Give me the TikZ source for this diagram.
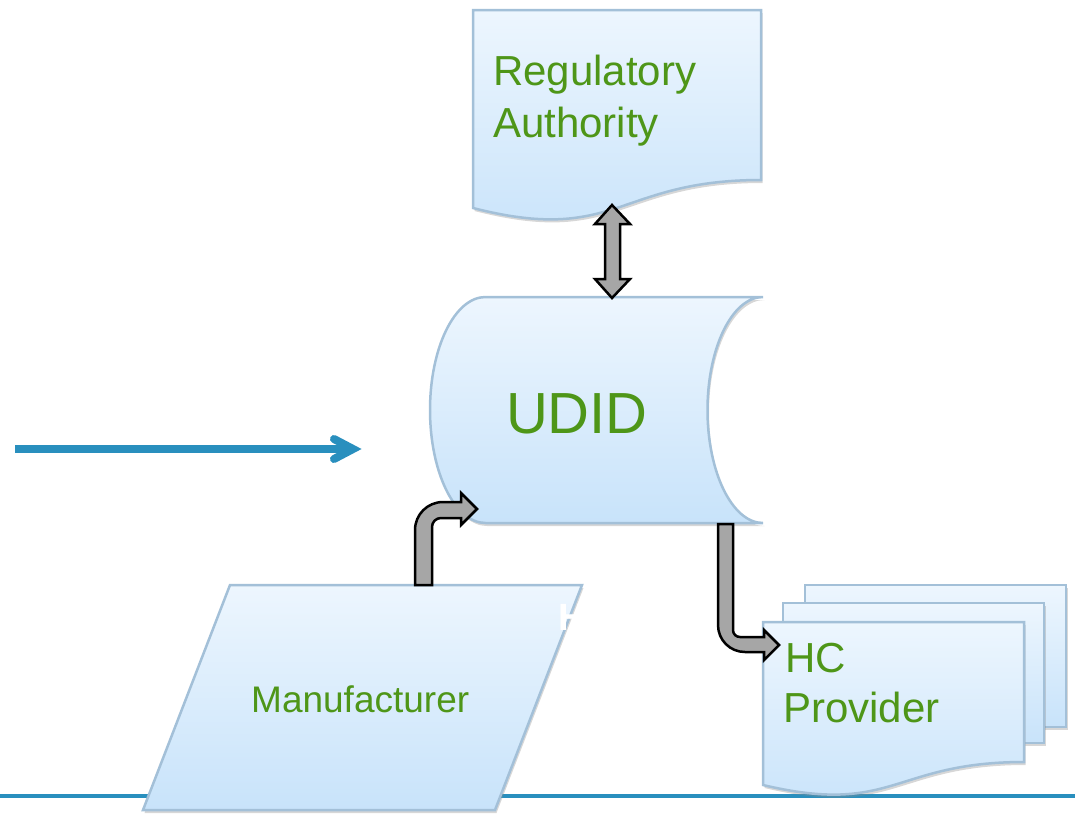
\documentclass[tikz,border=0pt]{standalone}
\usepackage{fontspec}
\setmainfont{Liberation Sans}
\usetikzlibrary{shadows}
\definecolor{txtgreen}{RGB}{78,150,24}
\definecolor{boxtop}{RGB}{237,246,254}
\definecolor{boxbot}{RGB}{200,227,250}
\definecolor{boxline}{RGB}{163,192,216}
\definecolor{arrowgray}{RGB}{166,166,166}
\definecolor{lineblue}{RGB}{41,143,190}
\tikzset{
  shapebox/.style={draw=boxline, line width=2.5pt, top color=boxtop, bottom color=boxbot,
    drop shadow={shadow xshift=1.5pt, shadow yshift=-3pt, fill=black!45, opacity=0.35}},
  blockarrow/.style={draw=black, line width=2.5pt, fill=arrowgray, line join=miter},
  lbl/.style={text=txtgreen, inner sep=0pt, anchor=base west},
  blueline/.style={draw=lineblue, line width=8pt},
}
\begin{document}
\begin{tikzpicture}[x=1pt,y=-1pt]
\useasboundingbox (0,0) rectangle (1075,814);
% bottom rule
\coordinate (rule-w) at (0,796);
\coordinate (rule-e) at (1075,796);
\draw[draw=lineblue, line width=4pt] (rule-w) -- (rule-e);
% blue arrow
\coordinate (bl-start) at (15,449);
\coordinate (bl-end) at (353,449);
\draw[blueline] (bl-start) -- (bl-end);
\draw[blueline, line cap=round, line join=miter] (334,439) -- (bl-end) -- (334,459);
% Regulatory Authority (document)
\path[shapebox] (473,10) -- (761,10) -- (761,180) .. controls (617,180) and (617,245) .. (473,208) -- cycle;
\node[lbl, font=\fontsize{42}{50}\selectfont] (ra1) at (493,85) {Regulatory};
\node[lbl, font=\fontsize{42}{50}\selectfont] (ra2) at (493,137) {Authority};
% UDID (stored data)
\path[shapebox] (485.5,297) -- (763,297)
  .. controls (732.3,297) and (707.5,347.6) .. (707.5,410)
  .. controls (707.5,472.4) and (732.3,523) .. (763,523)
  -- (485.5,523)
  .. controls (454.8,523) and (430,472.4) .. (430,410)
  .. controls (430,347.6) and (454.8,297) .. (485.5,297) -- cycle;
\node[text=txtgreen, inner sep=0pt, anchor=base, font=\fontsize{58}{60}\selectfont] (udid) at (577,433) {UDID};
% Manufacturer (parallelogram)
\path[shapebox] (230,585) -- (582,585) -- (495,810) -- (143,810) -- cycle;
\node[lbl, font=\fontsize{37}{44}\selectfont] (man) at (251,712) {Manufacturer};
\node[text=white, inner sep=0pt, anchor=base west, font=\fontsize{38}{44}\selectfont\bfseries] (hid) at (558,630) {H};
% HC Provider (multi-document)
\path[shapebox] (805,585) rectangle (1066,727);
\path[shapebox] (783,603) rectangle (1044,743);
\path[shapebox] (763,622) -- (1024,622) -- (1024,762) .. controls (893.5,762) and (893.5,816) .. (763,785) -- cycle;
\node[lbl, font=\fontsize{42}{50}\selectfont] (hc1) at (785,672) {HC};
\node[lbl, font=\fontsize{42}{50}\selectfont] (hc2) at (783,722) {Provider};
% block arrows
\path[blockarrow] (612,205) -- (630,224) -- (620,224) -- (620,279) -- (630,279) -- (612,298)
  -- (595,279) -- (605,279) -- (605,224) -- (595,224) -- cycle;
\path[blockarrow] (415,585) -- (415,530) .. controls (415,514.5) and (427.5,502) .. (443,502)
  -- (461,502) -- (461,493) -- (477,509) -- (461,525) -- (461,518) -- (441,518)
  .. controls (436,518) and (432,522) .. (432,527) -- (432,585) -- cycle;
\path[blockarrow] (718,524) -- (733,524) -- (733,630) .. controls (733,634) and (736,637) .. (740,637)
  -- (764,637) -- (764,630) -- (779,645) -- (764,660) -- (764,652) -- (745,652)
  .. controls (730,652) and (718,640) .. (718,625) -- cycle;
\end{tikzpicture}
\end{document}
